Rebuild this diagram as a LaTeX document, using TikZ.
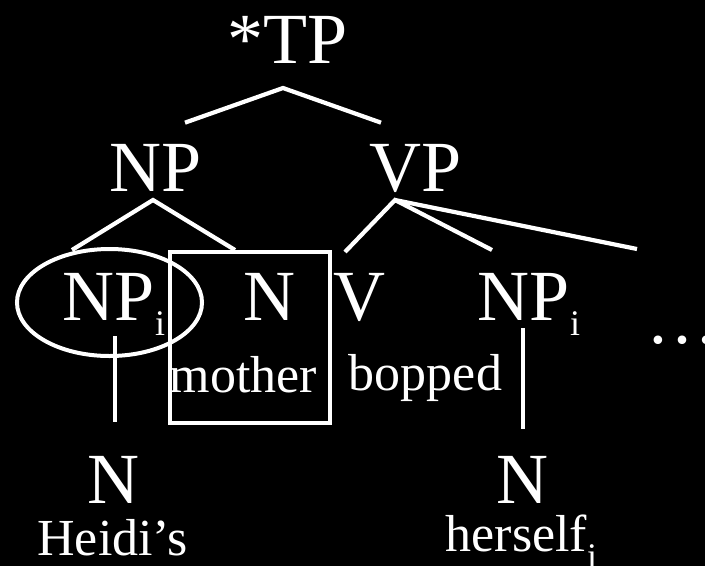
\documentclass[tikz,border=0pt]{standalone}
\usepackage{fontspec}
\setmainfont{Liberation Serif}
\newcommand{\idx}[2][-15pt]{\raisebox{#1}{\fontsize{36}{36}\selectfont #2}}

\begin{document}
\begin{tikzpicture}[x=1pt,y=-1pt,
	every node/.style={inner sep=0pt, anchor=base, text=white},
	cat/.style={font=\fontsize{72}{72}\selectfont},
	word/.style={font=\fontsize{52}{52}\selectfont},
	branch/.style={draw=white, line width=4.2pt},
	hilite/.style={draw=white, line width=4pt}]
	\clip (0,0) rectangle (705,566);
	\fill[black] (0,0) rectangle (705,566);
	% categories
	\node[cat] (TP) at (287.5,63) {*TP};
	\node[cat] (NP) at (156,191) {NP};
	\node[cat] (VP) at (416,191) {VP};
	\node[cat] (NPi) at (114,320) {NP\idx{i}};
	\node[cat] (Nm) at (269,320) {N};
	\node[cat] (V) at (359,320) {V};
	\node[cat] (NPj) at (529,320) {NP\idx{i}};
	\node[cat] (dots) at (682,343) {…};
	\node[cat] (Nh) at (113,503) {N};
	\node[cat] (Nr) at (522,503) {N};
	% words
	\node[word] (mother) at (243.5,392) {mother};
	\node[word] (bopped) at (425.5,390) {bopped};
	\node[word] (heidi) at (112.5,555) {Heidi's};
	\node[word] (herself) at (521.5,551) {herself\idx[-17pt]{i}};
	% branches
	\draw[branch] ([shift={(29,-21)}]NP.north) -- ([shift={(-4.5,25)}]TP.base) -- ([shift={(-35,-21)}]VP.north);
	\draw[branch] ([shift={(-42,-70)}]NPi.base) -- ([shift={(-3,9)}]NP.base) -- ([shift={(-34,-70)}]Nm.base);
	\draw[branch] ([shift={(-14,-68)}]V.base) -- ([shift={(-21,9)}]VP.base) -- ([shift={(-37,-70)}]NPj.base);
	\draw[branch] ([shift={(-21,9)}]VP.base) -- ([shift={(-45,-94)}]dots.base);
	\draw[branch] ([shift={(1,16)}]NPi.base) -- ([shift={(2,-81)}]Nh.base);
	\draw[branch] ([shift={(-6,8)}]NPj.base) -- ([shift={(1,-74)}]Nr.base);
	% circle and box
	\draw[hilite] ([shift={(-4.5,-17.5)}]NPi.base) ellipse [x radius=92.5, y radius=53.5];
	\draw[hilite] ([shift={(-99,-68)}]Nm.base) rectangle ([shift={(86.5,31)}]mother.base);
\end{tikzpicture}
\end{document}
